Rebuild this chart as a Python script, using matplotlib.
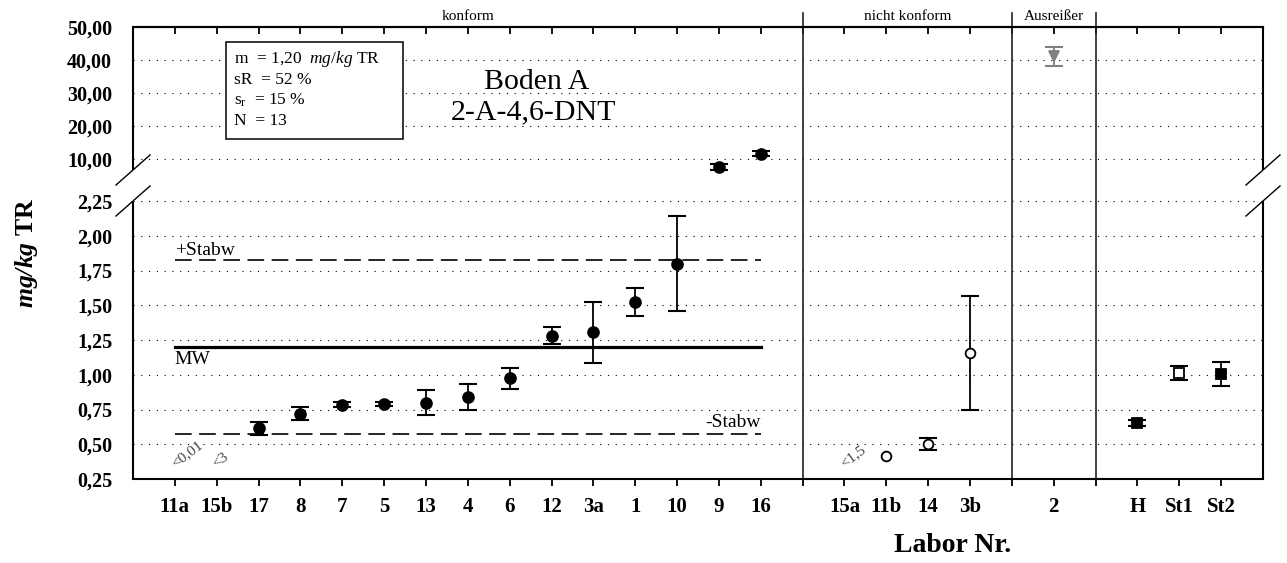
import numpy as np
import matplotlib
matplotlib.use("Agg")
import matplotlib.pyplot as plt
from matplotlib.ticker import FixedLocator
from matplotlib.patches import Rectangle
import matplotlib.transforms as mtransforms

plt.rcParams['font.family'] = 'Liberation Serif'
plt.rcParams['mathtext.fontset'] = 'custom'
plt.rcParams['mathtext.rm'] = 'Liberation Serif'
plt.rcParams['mathtext.it'] = 'Liberation Serif:italic'
plt.rcParams['mathtext.bf'] = 'Liberation Serif:italic:bold'

# ---------------- data ----------------
konform_labs = ["11a", "15b", "17", "8", "7", "5", "13", "4", "6", "12", "3a", "1", "10", "9", "16"]
konform_vals = [np.nan, np.nan, 0.615, 0.72, 0.785, 0.79, 0.80, 0.84, 0.975, 1.28, 1.305, 1.523, 1.80, 7.6, 11.6]
konform_err = [0, 0, 0.047, 0.047, 0.02, 0.012, 0.09, 0.093, 0.077, 0.062, 0.218, 0.103, 0.34, 0.8, 0.7]
konform_below = {"11a": "<0,01", "15b": "<3"}

nk_labs = ["15a", "11b", "14", "3b"]
nk_vals = [np.nan, 0.415, 0.505, 1.16]
nk_err = [0, 0, 0.043, 0.41]
nk_below = {"15a": "<1,5"}

out_labs = ["2"]
out_vals = [41.15]
out_err = [2.85]

ref_labs = ["H", "St1", "St2"]
ref_vals = [0.655, 1.012, 1.005]
ref_err = [0.022, 0.05, 0.088]

mw = 1.20          # mg/kg TR
s_R = 52           # %
s_r = 15           # %
n_labs = 13

group_titles = ["konform", "nicht konform", "Ausreißer"]
ytick_vals = [0.25, 0.50, 0.75, 1.00, 1.25, 1.50, 1.75, 2.00, 2.25, 10, 20, 30, 40, 50]
ytick_labels = [f"{v:.2f}".replace(".", ",") for v in ytick_vals]
break_vals = [2.25, 10]

# ---------------- broken y scale ----------------
_kv = np.array([0.25, 2.25, 5.0, 50.0])
_kp = np.array([0.0, 278.0, 303.5, 452.0])
_s0 = (_kp[1] - _kp[0]) / (_kv[1] - _kv[0])
_s1 = (_kp[-1] - _kp[-2]) / (_kv[-1] - _kv[-2])


def _fwd(v):
    v = np.asarray(v, dtype=float)
    out = np.interp(v, _kv, _kp)
    out = np.where(v < _kv[0], _kp[0] + (v - _kv[0]) * _s0, out)
    out = np.where(v > _kv[-1], _kp[-1] + (v - _kv[-1]) * _s1, out)
    return out


def _inv(p):
    p = np.asarray(p, dtype=float)
    out = np.interp(p, _kp, _kv)
    out = np.where(p < _kp[0], _kv[0] + (p - _kp[0]) / _s0, out)
    out = np.where(p > _kp[-1], _kv[-1] + (p - _kp[-1]) / _s1, out)
    return out


# ---------------- positions ----------------
groups = [konform_labs, nk_labs, out_labs, ref_labs]
positions = []
separators = []
pos = 1
for gi, g in enumerate(groups):
    positions.append(list(range(pos, pos + len(g))))
    pos += len(g)
    if gi < len(groups) - 1:
        separators.append(pos)
        pos += 1
x_max = pos

all_ticks = list(range(1, x_max))
tick_text = {}
for g, p in zip(groups, positions):
    for lab, xp in zip(g, p):
        tick_text[xp] = lab
xtick_labels = [tick_text.get(t, "") for t in all_ticks]

# ---------------- figure ----------------
W, H = 1287, 563
fig = plt.figure(figsize=(W / 100, H / 100), dpi=100)
ax = fig.add_axes([133 / W, 84 / H, 1130 / W, 452 / H])
ax.set_yscale('function', functions=(_fwd, _inv))
ax.set_ylim(0.25, 50)
ax.set_xlim(0, x_max)

# y ticks: labels on major (no marks), marks on minor
ax.set_yticks(ytick_vals, ytick_labels, fontweight='bold')
ax.yaxis.set_minor_locator(FixedLocator([v for v in ytick_vals if v not in break_vals]))
ax.tick_params(axis='y', which='major', length=0, pad=15, labelsize=14.5)
ax.tick_params(axis='y', which='minor', length=6.5, width=1.3, direction='out',
               left=True, right=True)

# x ticks
ax.set_xticks(all_ticks, xtick_labels, fontweight='bold')
ax.tick_params(axis='x', which='major', length=5, width=1.3, direction='out',
               pad=8, labelsize=15)
sec = ax.secondary_xaxis('top')
sec.set_xticks(all_ticks)
sec.tick_params(axis='x', direction='in', length=5, width=1.3, labeltop=False)
sec.spines['top'].set_linewidth(1.5)

# grid
ax.grid(axis='y', which='major', linestyle=(0, (1, 6)), linewidth=0.8, color='k')
ax.set_axisbelow(True)

# spines with break
for side in ('left', 'right'):
    ax.spines[side].set_visible(False)
for side in ('top', 'bottom'):
    ax.spines[side].set_linewidth(1.5)
span = _fwd(50) - _fwd(0.25)
gap_lo = float((_fwd(2.25) - _fwd(0.25)) / span)
gap_hi = gap_lo + 31 / 452
dx, dy = 17 / 1130, 15 / 452
for xa in (0, 1):
    ax.plot([xa, xa], [0, gap_lo], transform=ax.transAxes, color='k', lw=1.5,
            clip_on=False, solid_capstyle='butt')
    ax.plot([xa, xa], [gap_hi, 1], transform=ax.transAxes, color='k', lw=1.5,
            clip_on=False, solid_capstyle='butt')
    for yc in (gap_lo, gap_hi):
        ax.plot([xa - dx, xa + dx], [yc - dy, yc + dy], transform=ax.transAxes,
                color='k', lw=1.0, clip_on=False)

# group separators and titles
trans = mtransforms.blended_transform_factory(ax.transData, ax.transAxes)
for s in separators:
    ax.axvline(s, ymin=0, ymax=1 + 14 / 452, color='#222222', lw=1.2, clip_on=False)
bounds = [0] + separators + [x_max]
for i, t in enumerate(group_titles):
    ax.text((bounds[i] + bounds[i + 1]) / 2, 1 + 10 / 452, t, transform=trans,
            ha='center', va='center', fontsize=11)

# mean and +/- standard deviation
stabw = mw * s_R / 100
x0, x1 = positions[0][0], positions[0][-1]
ax.plot([x0, x1], [mw, mw], color='k', lw=2.3, zorder=3)
ax.plot([x0, x1], [mw + stabw] * 2, color='k', lw=1.2, ls=(0, (10, 4.5)), zorder=3)
ax.plot([x0, x1], [mw - stabw] * 2, color='k', lw=1.2, ls=(0, (10, 4.5)), zorder=3)
ax.annotate("+Stabw", (x0, mw + stabw), xytext=(0, 7), textcoords='offset points',
            ha='left', va='center', fontsize=14)
ax.annotate("MW", (x0, mw), xytext=(0, -9), textcoords='offset points',
            ha='left', va='center', fontsize=14)
ax.annotate("-Stabw", (x1, mw - stabw), xytext=(0, 8), textcoords='offset points',
            ha='right', va='center', fontsize=14)


def draw(xs, vals, errs, marker, face, edge, ms, ecolor):
    xs = np.asarray(xs, float)
    vals = np.asarray(vals, float)
    errs = np.asarray(errs, float)
    m = np.isfinite(vals) & (errs > 0)
    if m.any():
        ax.errorbar(xs[m], vals[m], yerr=errs[m], fmt='none', ecolor=ecolor,
                    elinewidth=1.3, capsize=6.5, capthick=1.5, zorder=4)
    v = np.isfinite(vals)
    ax.plot(xs[v], vals[v], linestyle='none', marker=marker, ms=ms,
            mfc=face, mec=edge, mew=1.3, zorder=5)


draw(positions[0], konform_vals, konform_err, 'o', 'k', 'k', 7.8, 'k')
draw(positions[1], nk_vals, nk_err, 'o', 'w', 'k', 7.0, 'k')
draw(positions[2], out_vals, out_err, 'v', '#808080', '#808080', 7.5, '#808080')
ref_faces = ['k', 'w', 'k']
for xp, v, e, f in zip(positions[3], ref_vals, ref_err, ref_faces):
    draw([xp], [v], [e], 's', f, 'k', 6.8, 'k')

# values below the reporting limit
for g, p, below in ((konform_labs, positions[0], konform_below),
                    (nk_labs, positions[1], nk_below)):
    for lab, xp in zip(g, p):
        if lab in below:
            ax.text(xp, 0.33, below[lab], rotation=37, rotation_mode='anchor',
                    ha='left', va='baseline', fontsize=11, color='#444444')

# info box
bx0, by0, bx1, by1 = 226, 42, 403, 139
fig.add_artist(Rectangle((bx0 / W, 1 - by1 / H), (bx1 - bx0) / W, (by1 - by0) / H,
                         transform=fig.transFigure, fill=True, facecolor='white',
                         edgecolor='k', lw=1.1, zorder=3))
mw_txt = f"{mw:.2f}".replace(".", ",")
info_lines = [f"m  = {mw_txt}  $mg/kg$ TR", f"sR  = {s_R} %",
              f"s$_\\mathrm{{r}}$  = {s_r} %", f"N  = {n_labs}"]
for i, line in enumerate(info_lines):
    fig.text(234 / W, 1 - (59 + 20.7 * i) / H, line, ha='left', va='center',
             fontsize=12.5, zorder=4)

# title
fig.text(537 / W, 1 - 82 / H, "Boden A", ha='center', va='center', fontsize=21.5)
fig.text(533 / W, 1 - 112 / H, "2-A-4,6-DNT", ha='center', va='center', fontsize=21.5)

# axis titles
fig.text(953 / W, 1 - 545 / H, "Labor Nr.", ha='center', va='center',
         fontsize=20, fontweight='bold')
fig.text(33 / W, 1 - 253 / H, r"$\mathbf{mg/kg}$ TR", rotation=90,
         rotation_mode='anchor', ha='center', va='baseline',
         fontsize=18.5, fontweight='bold')

fig.savefig("out.png", dpi=100)
